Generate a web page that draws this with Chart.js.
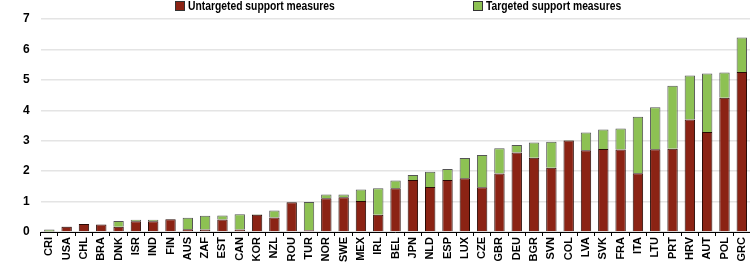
<!DOCTYPE html>
<html lang="en">
<head>
    <meta charset="UTF-8">
    <title>Support measures</title>
    <style>
        html, body {
            margin: 0;
            padding: 0;
            width: 750px;
            height: 266px;
            overflow: hidden;
            background: #fff;
        }

        .wrap {
            position: relative;
            width: 756px;
            height: 266px;
        }

        .legend-item {
            position: absolute;
            top: 0;
            font: bold 12px "Liberation Sans", Arial, sans-serif;
            color: #000;
            line-height: 12px;
            white-space: nowrap;
        }

        .legend-item .box {
            display: inline-block;
            width: 8px;
            height: 8px;
            margin-right: 3px;
            vertical-align: -1px;
            border: 1px solid #333;
        }

        /* the original face is a condensed one */
        .legend-item .txt {
            display: inline-block;
            transform: scaleX(0.86);
            transform-origin: left center;
        }
    </style>
</head>
<body>
    <div class="wrap">
        <div class="legend-item" id="leg0" style="left:175px"><span class="box"></span><span class="txt"></span></div>
        <div class="legend-item" id="leg1" style="left:473px"><span class="box"></span><span class="txt"></span></div>
        <canvas id="chart" width="756" height="266"></canvas>
    </div>

    <script src="https://cdn.jsdelivr.net/npm/chart.js"></script>
    <script>
        const countries = ['CRI', 'USA', 'CHL', 'BRA', 'DNK', 'ISR', 'IND', 'FIN', 'AUS', 'ZAF',
            'EST', 'CAN', 'KOR', 'NZL', 'ROU', 'TUR', 'NOR', 'SWE', 'MEX', 'IRL',
            'BEL', 'JPN', 'NLD', 'ESP', 'LUX', 'CZE', 'GBR', 'DEU', 'BGR', 'SVN',
            'COL', 'LVA', 'SVK', 'FRA', 'ITA', 'LTU', 'PRT', 'HRV', 'AUT', 'POL', 'GRC'];

        const untargeted = [0.02, 0.17, 0.26, 0.25, 0.17, 0.35, 0.35, 0.42, 0.09, 0.08,
            0.41, 0.08, 0.57, 0.48, 0.98, 0.06, 1.11, 1.14, 1.02, 0.57,
            1.44, 1.71, 1.48, 1.71, 1.77, 1.47, 1.92, 2.61, 2.44, 2.11,
            3.01, 2.69, 2.73, 2.71, 1.93, 2.72, 2.74, 3.70, 3.29, 4.41, 5.26];

        const targeted = [0.06, 0.01, 0, 0, 0.19, 0.05, 0.05, 0, 0.38, 0.45,
            0.13, 0.50, 0.01, 0.23, 0, 0.93, 0.12, 0.09, 0.38, 0.87,
            0.25, 0.16, 0.50, 0.36, 0.66, 1.06, 0.83, 0.25, 0.50, 0.86,
            0.01, 0.58, 0.64, 0.69, 1.86, 1.38, 2.07, 1.44, 1.92, 0.83, 1.13];

        const seriesNames = ['Untargeted support measures', 'Targeted support measures'];
        const yTicks = [0, 1, 2, 3, 4, 5, 6, 7];

        const colors = ['#8b2314', '#8dc153'];
        const edges = ['#2a0a05', '#555555'];

        // html legend, spaced the way the original is
        seriesNames.forEach((name, i) => {
            const el = document.getElementById('leg' + i);
            el.querySelector('.txt').textContent = name;
            el.querySelector('.box').style.background = colors[i];
        });

        const family = '"Liberation Sans", Arial, sans-serif';

        new Chart(document.getElementById('chart'), {
            type: 'bar',
            data: {
                labels: countries,
                datasets: [
                    {
                        label: seriesNames[0],
                        data: untargeted,
                        backgroundColor: colors[0],
                        borderColor: edges[0],
                        borderWidth: 1,
                        barPercentage: 0.6,
                        categoryPercentage: 1
                    },
                    {
                        label: seriesNames[1],
                        data: targeted,
                        backgroundColor: colors[1],
                        borderColor: edges[1],
                        borderWidth: 1,
                        barPercentage: 0.6,
                        categoryPercentage: 1
                    }
                ]
            },
            options: {
                responsive: false,
                animation: false,
                layout: {
                    padding: { top: 19, left: 12, right: 0, bottom: 0 }
                },
                plugins: {
                    legend: { display: false },
                    tooltip: { enabled: false }
                },
                scales: {
                    x: {
                        stacked: true,
                        afterFit: (axis) => {
                            axis.height = 34;
                        },
                        grid: {
                            drawOnChartArea: false,
                            drawTicks: true,
                            tickLength: 4,
                            color: '#000',
                            offset: true
                        },
                        border: { display: true, color: '#000', width: 1 },
                        ticks: {
                            font: { family: family, size: 11, weight: 'bold' },
                            color: '#000',
                            minRotation: 90,
                            maxRotation: 90,
                            autoSkip: false,
                            padding: 1
                        }
                    },
                    y: {
                        stacked: true,
                        min: 0,
                        max: 7,
                        afterBuildTicks: (axis) => {
                            axis.ticks = yTicks.map(v => ({ value: v }));
                        },
                        grid: {
                            color: '#e4e4e4',
                            lineWidth: 1.5,
                            drawTicks: false
                        },
                        border: { display: false },
                        ticks: {
                            font: { family: family, size: 12, weight: 'bold' },
                            color: '#000',
                            padding: 11
                        }
                    }
                }
            }
        });
    </script>
</body>
</html>
